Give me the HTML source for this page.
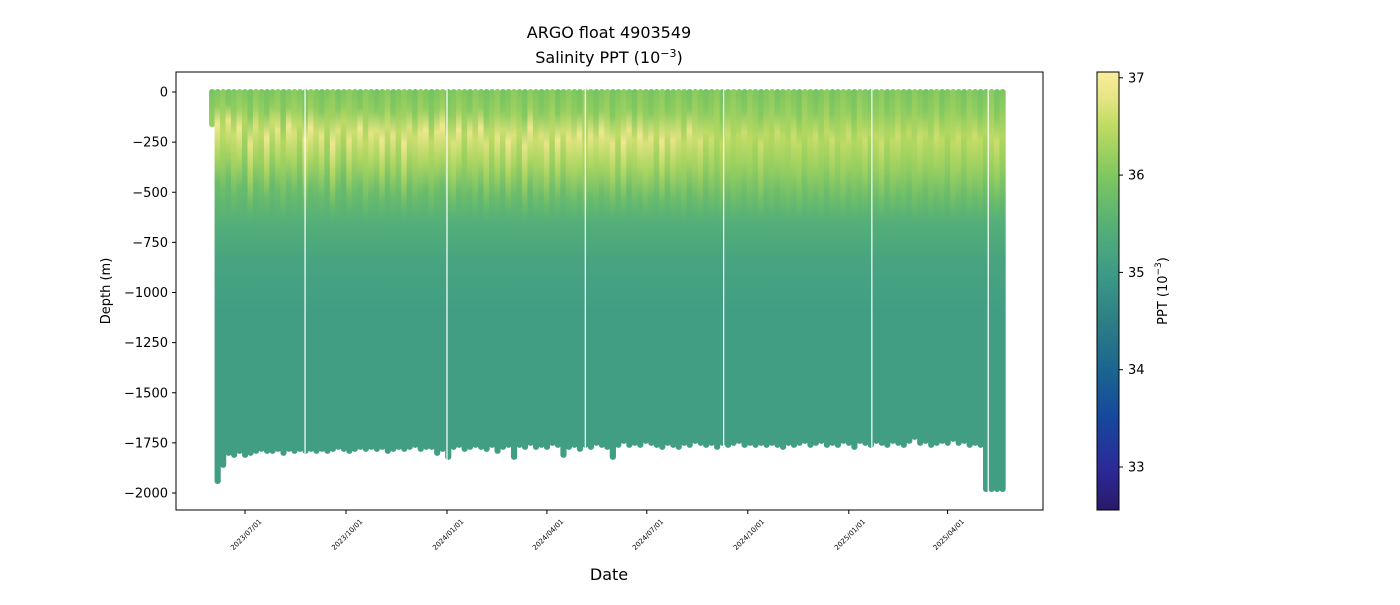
<!DOCTYPE html>
<html><head><meta charset="utf-8"><style>
body{margin:0;background:#fff;font-family:"Liberation Sans","DejaVu Sans",sans-serif}
svg text{font-family:"DejaVu Sans","Liberation Sans",sans-serif;fill:#000}
</style></head><body>
<svg id="chart" width="1400" height="600" xmlns="http://www.w3.org/2000/svg">
<defs>
<linearGradient id="cbar" x1="0" y1="1" x2="0" y2="0"></linearGradient>
<clipPath id="plotclip"><rect x="176" y="72" width="867" height="438"/></clipPath>
</defs>
<text x="609" y="38" font-size="16" text-anchor="middle">ARGO float 4903549</text>
<text x="609" y="63" font-size="16" text-anchor="middle">Salinity PPT (10<tspan dy="-6" font-size="11">−3</tspan><tspan dy="6">)</tspan></text>
<g id="plot" clip-path="url(#plotclip)"></g>
<rect x="176" y="72" width="867" height="438" fill="none" stroke="#000" stroke-width="1"/>
<g id="yaxis"></g>
<g id="xaxis"></g>
<text transform="translate(110,291) rotate(-90)" font-size="13" text-anchor="middle">Depth (m)</text>
<text x="609" y="580" font-size="16" text-anchor="middle">Date</text>
<rect x="1097" y="72" width="22" height="438" fill="url(#cbar)" stroke="#000" stroke-width="1"/>
<g id="cbaxis"></g>
<text transform="translate(1167,291) rotate(-90)" font-size="13" text-anchor="middle">PPT (10<tspan dy="-6" font-size="9">−3</tspan><tspan dy="6">)</tspan></text>
</svg>
<script>
const NS="http://www.w3.org/2000/svg";
// profile dates as day offsets from 2023-07-01
const profileDays=[-30,-25,-20,-15,-10,-5,0,5,10,15,20,25,30,35,40,45,50,55,60,65,70,75,80,85,90,95,100,105,110,115,120,125,130,135,140,145,150,155,160,165,170,175,180,185,190,195,200,205,210,215,220,225,230,235,240,245,250,255,260,265,270,275,280,285,290,295,300,305,310,315,320,325,330,335,340,345,350,355,360,365,370,375,380,385,390,395,400,405,410,415,420,425,430,435,440,445,450,455,460,465,470,475,480,485,490,495,500,505,510,515,520,525,530,535,540,545,550,555,560,565,570,575,580,585,590,595,600,605,610,615,620,625,630,635,640,645,650,655,660,665,670,675,680,685,690];
const maxDepth=[160,1940,1860,1800,1810,1790,1810,1800,1790,1780,
1790,1790,1780,1800,1780,1790,1780,1790,1780,1790,
1780,1790,1780,1770,1780,1790,1780,1770,1780,1770,
1780,1770,1790,1780,1770,1780,1770,1760,1780,1770,
1770,1800,1780,1820,1770,1760,1780,1770,1760,1770,
1780,1760,1790,1770,1760,1820,1760,1770,1750,1770,
1760,1770,1750,1760,1810,1770,1760,1780,1760,1770,
1750,1760,1770,1820,1760,1740,1760,1750,1760,1740,
1750,1760,1770,1750,1760,1770,1750,1760,1740,1750,
1760,1750,1770,1750,1760,1750,1740,1760,1750,1760,
1750,1760,1750,1760,1770,1750,1760,1750,1740,1760,
1750,1740,1760,1750,1760,1740,1750,1770,1740,1750,
1760,1740,1750,1760,1740,1750,1760,1740,1720,1750,
1740,1760,1750,1740,1750,1730,1750,1740,1760,1750,
1760,1980,1980,1980,1980];
const peakSal=[36.2,36.9,36.5,36.8,36.6,36.9,36.4,36.8,36.7,36.5,
36.9,36.6,36.8,36.4,36.9,36.7,36.5,36.8,36.9,36.6,
36.8,36.4,36.9,36.7,36.5,36.8,36.6,36.9,36.5,36.8,
36.7,36.9,36.6,36.8,36.5,36.9,36.7,36.6,36.8,36.9,
36.5,36.8,36.9,36.6,36.7,36.9,36.4,36.8,36.6,36.9,
36.7,36.5,36.8,36.6,36.9,36.7,36.5,36.8,36.9,36.6,
36.7,36.8,36.5,36.9,36.6,36.8,36.7,36.9,36.5,36.8,
36.6,36.9,36.7,36.8,36.5,36.9,36.8,36.6,36.9,36.7,
36.8,36.5,36.9,36.6,36.8,36.7,36.5,36.8,36.6,36.7,
36.5,36.6,36.4,36.5,36.6,36.4,36.5,36.6,36.5,36.4,
36.6,36.5,36.4,36.6,36.5,36.4,36.6,36.5,36.4,36.5,
36.6,36.4,36.5,36.6,36.4,36.5,36.6,36.4,36.5,36.6,
36.4,36.5,36.6,36.4,36.5,36.6,36.4,36.5,36.4,36.6,
36.5,36.4,36.6,36.5,36.4,36.5,36.6,36.4,36.5,36.6,
36.5,36.4,36.5,36.6,36.4];
const peakDepth=[150,160,200,140,220,180,150,260,170,200,
230,150,190,250,170,210,160,240,180,200,
220,170,260,190,150,240,200,180,260,210,
190,240,170,220,200,260,180,230,210,190,
250,200,170,230,260,190,220,200,240,180,
260,210,230,190,250,220,200,270,180,240,
220,260,200,240,190,230,250,210,260,220,
240,200,230,260,210,250,190,240,220,260,
230,210,250,200,240,220,260,190,230,250,
200,240,220,260,210,250,230,200,240,220,
260,210,240,200,230,250,220,260,210,240,
220,250,200,240,230,260,210,250,220,240,
200,230,260,210,250,220,240,200,260,230,
210,250,220,240,200,260,230,210,250,220,
240,200,230,250,220];
const surfSal=[35.9,36.0,36.1,35.9,36.0,36.1,36.0,35.9,36.1,36.0];
const cycleBreaks=[54.7,184,310,436,571,677];
const xTickLabels=["2023/07/01","2023/10/01","2024/01/01","2024/04/01","2024/07/01","2024/10/01","2025/01/01","2025/04/01"];
const xTickDays=[0,92,184,275,366,458,550,640];
const yTicks=[0,-250,-500,-750,-1000,-1250,-1500,-1750,-2000];
const cbTicks=[33,34,35,36,37];
const cmapStops=[[32.57,"#29196b"],[33.0,"#2c2a98"],[33.5,"#16479d"],[34.0,"#1a6590"],[34.5,"#2d7e85"],[35.0,"#3d9a86"],[35.5,"#56b176"],[36.0,"#7fc75f"],[36.5,"#bedb62"],[36.8,"#e6e585"],[37.06,"#fbed9c"]];

const X=d=>245+d*1.0978;
const Y=v=>92-v*0.2005;
const CB=s=>467-(s-33)*97.3;
function hex(c){return [1,3,5].map(i=>parseInt(c.substr(i,2),16));}
function cmap(s){
  if(s<=cmapStops[0][0])return cmapStops[0][1];
  for(let i=1;i<cmapStops.length;i++){if(s<=cmapStops[i][0]){const a=cmapStops[i-1],b=cmapStops[i];const t=(s-a[0])/(b[0]-a[0]);const A=hex(a[1]),B=hex(b[1]);return "rgb("+A.map((v,k)=>Math.round(v+(B[k]-v)*t)).join(",")+")";}}
  return cmapStops[cmapStops.length-1][1];
}
const svg=document.getElementById('chart'),defs=svg.querySelector('defs'),plot=document.getElementById('plot');
const cg=document.getElementById('cbar');
cmapStops.forEach(s=>{const st=document.createElementNS(NS,'stop');st.setAttribute('offset',((s[0]-32.57)/(37.06-32.57)));st.setAttribute('stop-color',s[1]);cg.appendChild(st);});
profileDays.forEach((d,i)=>{
  const md=maxDepth[i];const pk=peakSal[i];const pd=peakDepth[i];const sf=surfSal[i%surfSal.length];
  const prof=[[0,sf],[pd*0.45,sf+0.15],[pd,pk],[pd+150,(pk+35.9)/2],[pd+300,35.75],[650,35.45],[850,35.2],[1100,35.08],[2000,35.0]];
  const g=document.createElementNS(NS,'linearGradient');g.id='p'+i;g.setAttribute('gradientUnits','userSpaceOnUse');
  g.setAttribute('x1',0);g.setAttribute('x2',0);g.setAttribute('y1',Y(0));g.setAttribute('y2',Y(-md));
  let last=0;
  prof.forEach(p=>{if(p[0]>md||p[0]<last)return;last=p[0];const st=document.createElementNS(NS,'stop');st.setAttribute('offset',p[0]/md);st.setAttribute('stop-color',cmap(p[1]));g.appendChild(st);});
  defs.appendChild(g);
  const r=document.createElementNS(NS,'rect');
  
  
  r.setAttribute('x',X(d)-3);r.setAttribute('width',6.2);
  r.setAttribute('y',Y(0)-3);r.setAttribute('height',Y(-md)-Y(0)+6);r.setAttribute('rx',3);
  r.setAttribute('fill','url(#p'+i+')');plot.appendChild(r);
});
cycleBreaks.forEach((d,i)=>{const l=document.createElementNS(NS,'line');
  
  
  l.setAttribute('x1',X(d));l.setAttribute('x2',X(d));l.setAttribute('y1',85);l.setAttribute('y2',505);l.setAttribute('stroke','#fff');l.setAttribute('stroke-width',1.2);plot.appendChild(l);});
const ya=document.getElementById('yaxis');
yTicks.forEach(v=>{const y=Y(v);
  const t=document.createElementNS(NS,'line');t.setAttribute('x1',172);t.setAttribute('x2',176);t.setAttribute('y1',y);t.setAttribute('y2',y);t.setAttribute('stroke','#000');
  
  ya.appendChild(t);
  const tx=document.createElementNS(NS,'text');tx.setAttribute('x',168);tx.setAttribute('y',y+4.5);tx.setAttribute('text-anchor','end');tx.setAttribute('font-size','13');tx.textContent=String(v).replace('-','−');
  
  ya.appendChild(tx);});
const xa=document.getElementById('xaxis');
xTickDays.forEach((d,i)=>{const x=X(d);
  const t=document.createElementNS(NS,'line');t.setAttribute('x1',x);t.setAttribute('x2',x);t.setAttribute('y1',510);t.setAttribute('y2',514);t.setAttribute('stroke','#000');
  
  xa.appendChild(t);
  const tx=document.createElementNS(NS,'text');tx.setAttribute('transform','translate('+(x+17)+',522) rotate(-45)');tx.setAttribute('text-anchor','end');tx.setAttribute('font-size','7');tx.textContent=xTickLabels[i];
  
  xa.appendChild(tx);});
const ca=document.getElementById('cbaxis');
cbTicks.forEach(v=>{const y=CB(v);
  const t=document.createElementNS(NS,'line');t.setAttribute('x1',1119);t.setAttribute('x2',1123);t.setAttribute('y1',y);t.setAttribute('y2',y);t.setAttribute('stroke','#000');
  
  ca.appendChild(t);
  const tx=document.createElementNS(NS,'text');tx.setAttribute('x',1128);tx.setAttribute('y',y+4.5);tx.setAttribute('font-size','13');tx.textContent=v;
  
  ca.appendChild(tx);});
</script>
</body></html>
